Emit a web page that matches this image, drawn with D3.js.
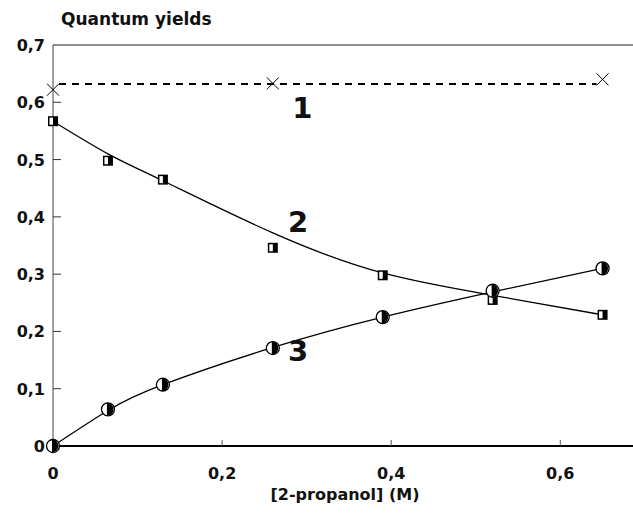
<!DOCTYPE html>
<html>
<head>
<meta charset="utf-8">
<script src="https://cdn.jsdelivr.net/npm/d3@7"></script>
<style>
  body { margin: 0; background: #fff; }
  text { font-family: "DejaVu Sans", Arial, sans-serif; font-weight: bold; fill: #111; }
</style>
</head>
<body>
<script>
// concentrations of 2-propanol (M)
let conc = [0, 0.065, 0.13, 0.26, 0.39, 0.52, 0.65];

// series 1 (crosses) and its dashed mean line
let conc1 = [0, 0.26, 0.65];
let phi1 = [0.622, 0.633, 0.640];
let fit1 = [0.632, 0.632];

// series 2 (squares) + fitted curve
let phi2 = [0.567, 0.498, 0.465, 0.346, 0.298, 0.255, 0.229];
let fit2 = [0.567, 0.510, 0.463, 0.372, 0.302, 0.263, 0.229];

// series 3 (circles) + fitted curve
let phi3 = [0, 0.064, 0.107, 0.171, 0.225, 0.271, 0.310];
let fit3 = [0, 0.062, 0.107, 0.172, 0.225, 0.269, 0.310];

let yTicks = [0, 0.1, 0.2, 0.3, 0.4, 0.5, 0.6, 0.7];
let xTicks = [0, 0.2, 0.4, 0.6];
let seriesLabels = ["1", "2", "3"];

let w = 633;
let h = 518;
let fmt = function(v) { return v === 0 ? "0" : String(+v.toFixed(1)).replace(".", ","); };

let xScale = d3.scaleLinear().domain([0, 0.686]).range([53, 633]);
let yScale = d3.scaleLinear().domain([0, 0.7]).range([446, 45]);

let svg = d3.select("body").append("svg")
    .attr("width", w)
    .attr("height", h);

// frame: left, top, bottom
svg.append("line")
    .attr("x1", xScale(0)).attr("x2", xScale(0))
    .attr("y1", yScale(0.7)).attr("y2", yScale(0))
    .attr("stroke", "#444").attr("stroke-width", 1);
svg.append("line")
    .attr("x1", xScale(0)).attr("x2", w)
    .attr("y1", yScale(0.7)).attr("y2", yScale(0.7))
    .attr("stroke", "#222").attr("stroke-width", 1.2);
svg.append("line")
    .attr("x1", xScale(0)).attr("x2", w)
    .attr("y1", yScale(0)).attr("y2", yScale(0))
    .attr("stroke", "#000").attr("stroke-width", 2.2);

// y ticks (inward) and labels
svg.selectAll(".ytick")
    .data(yTicks.filter(function(d) { return d > 0 && d < 0.7; }))
    .enter().append("line")
    .attr("x1", xScale(0)).attr("x2", xScale(0) + 8)
    .attr("y1", function(d) { return yScale(d); })
    .attr("y2", function(d) { return yScale(d); })
    .attr("stroke", "#333");

svg.selectAll(".ylab")
    .data(yTicks)
    .enter().append("text")
    .attr("x", 45)
    .attr("y", function(d) { return yScale(d) + 6; })
    .attr("text-anchor", "end")
    .attr("font-size", "16px")
    .text(fmt);

// x ticks and labels
svg.selectAll(".xtick")
    .data(xTicks.filter(function(d) { return d > 0; }))
    .enter().append("line")
    .attr("x1", function(d) { return xScale(d); })
    .attr("x2", function(d) { return xScale(d); })
    .attr("y1", yScale(0)).attr("y2", yScale(0) - 6)
    .attr("stroke", "#555");

svg.selectAll(".xlab")
    .data(xTicks)
    .enter().append("text")
    .attr("x", function(d) { return xScale(d); })
    .attr("y", 479)
    .attr("text-anchor", "middle")
    .attr("font-size", "16px")
    .text(fmt);

// titles
svg.append("text")
    .attr("x", 61).attr("y", 25)
    .attr("font-size", "17px")
    .text("Quantum yields");

svg.append("text")
    .attr("x", 345).attr("y", 500)
    .attr("text-anchor", "middle")
    .attr("font-size", "16px")
    .text("[2-propanol] (M)");

// series 1 dashed line
svg.append("line")
    .attr("x1", xScale(conc1[0]) + 6).attr("x2", xScale(conc1[2]) - 6)
    .attr("y1", yScale(fit1[0])).attr("y2", yScale(fit1[1]))
    .attr("stroke", "#000").attr("stroke-width", 2)
    .attr("stroke-dasharray", "7,6");

// fitted curves
let line = d3.line()
    .x(function(d) { return xScale(d[0]); })
    .y(function(d) { return yScale(d[1]); })
    .curve(d3.curveNatural);

svg.append("path")
    .attr("d", line(d3.zip(conc, fit2)))
    .attr("fill", "none").attr("stroke", "#000").attr("stroke-width", 1.3);
svg.append("path")
    .attr("d", line(d3.zip(conc, fit3)))
    .attr("fill", "none").attr("stroke", "#000").attr("stroke-width", 1.3);

// crosses
svg.selectAll(".cross")
    .data(d3.zip(conc1, phi1))
    .enter().append("path")
    .attr("d", function(d) {
        let x = xScale(d[0]), y = yScale(d[1]), s = 6;
        return "M" + (x - s) + "," + (y - s) + "L" + (x + s) + "," + (y + s) +
               "M" + (x - s) + "," + (y + s) + "L" + (x + s) + "," + (y - s);
    })
    .attr("stroke", "#000").attr("stroke-width", 1);

// half-filled squares
let sq = svg.selectAll(".sq")
    .data(d3.zip(conc, phi2))
    .enter().append("g")
    .attr("transform", function(d) { return "translate(" + xScale(d[0]) + "," + yScale(d[1]) + ")"; });
sq.append("rect")
    .attr("x", -5).attr("y", -5).attr("width", 10).attr("height", 10)
    .attr("fill", "#000");
sq.append("rect")
    .attr("x", -3.5).attr("y", -3.5).attr("width", 3.5).attr("height", 7)
    .attr("fill", "#fff");

// half-filled circles
let circ = svg.selectAll(".circ")
    .data(d3.zip(conc, phi3))
    .enter().append("g")
    .attr("transform", function(d) { return "translate(" + xScale(d[0]) + "," + yScale(d[1]) + ")"; });
circ.append("circle")
    .attr("r", 6.5).attr("fill", "#fff").attr("stroke", "#000").attr("stroke-width", 1.3);
circ.append("path")
    .attr("d", "M-1,-6.5A6.5,6.5 0 0,1 -1,6.5Z")
    .attr("fill", "#000");

// series numbers
let labelPos = [[0.295, 0.572], [0.29, 0.374], [0.29, 0.148]];
svg.selectAll(".snum")
    .data(seriesLabels)
    .enter().append("text")
    .attr("x", function(d, i) { return xScale(labelPos[i][0]); })
    .attr("y", function(d, i) { return yScale(labelPos[i][1]); })
    .attr("text-anchor", "middle")
    .attr("font-size", "29px")
    .text(function(d) { return d; });
</script>
</body>
</html>
